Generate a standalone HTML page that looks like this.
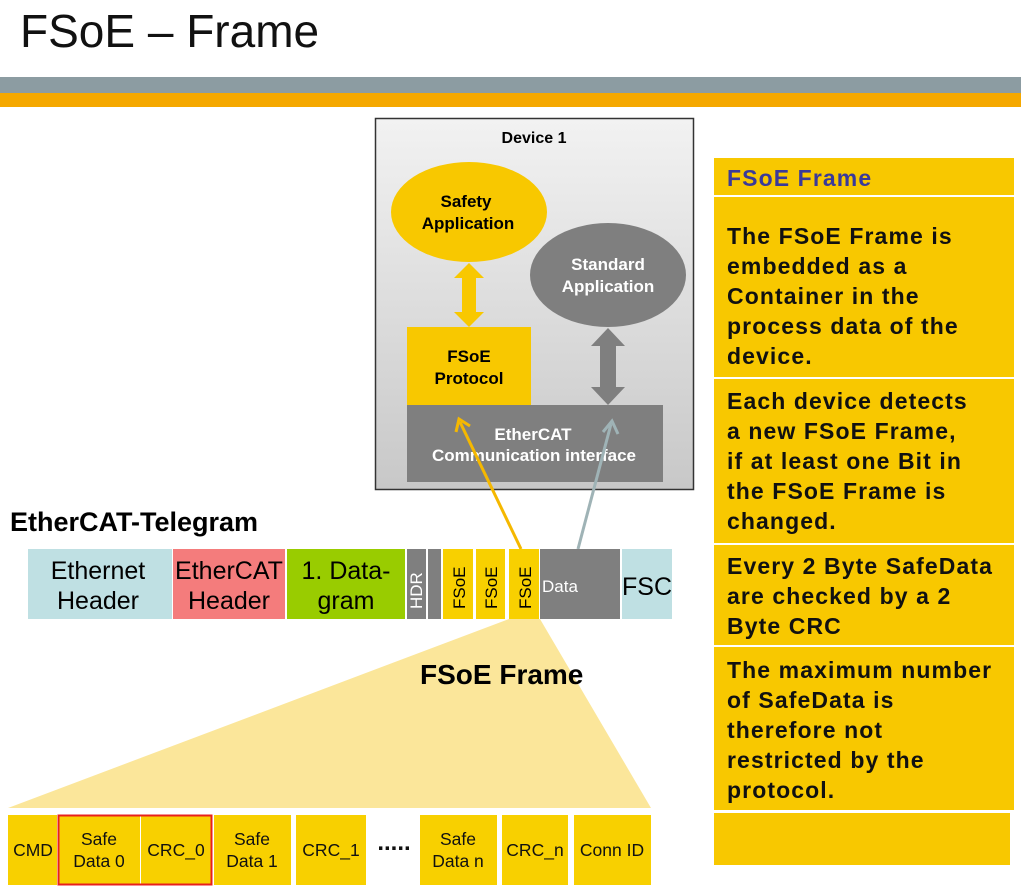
<!DOCTYPE html>
<html><head><meta charset="utf-8"><style>
body{margin:0;width:1021px;height:896px;background:#fff;overflow:hidden;font-family:"Liberation Sans",Arial,sans-serif}
svg text{font-family:"Liberation Sans",Arial,sans-serif}
.panel{position:absolute;left:714px;width:300px;background:#f8c800;box-sizing:border-box;padding-left:13px;font-weight:bold;font-size:23px;line-height:30px;color:#111;letter-spacing:1.1px;white-space:nowrap}
</style></head><body>
<svg width="1021" height="896" style="position:absolute;left:0;top:0">
<defs>
<linearGradient id="g" x1="0" y1="0" x2="0" y2="1"><stop offset="0" stop-color="#f2f2f2"/><stop offset="1" stop-color="#c8c8c8"/></linearGradient>
</defs>
<text x="20" y="47" font-size="46" fill="#111">FSoE – Frame</text>
<rect x="0" y="77" width="1021" height="16" fill="#8c9ca2"/>
<rect x="0" y="93" width="1021" height="14" fill="#f5a800"/>
<rect x="375.5" y="118.5" width="318" height="371" fill="url(#g)" stroke="#333" stroke-width="1.5"/>
<text x="534" y="143" font-size="16" font-weight="bold" text-anchor="middle">Device 1</text>
<ellipse cx="469" cy="212" rx="78" ry="50" fill="#f8c800"/>
<text x="466" y="207" font-size="17" font-weight="bold" text-anchor="middle">Safety</text>
<text x="468" y="229" font-size="17" font-weight="bold" text-anchor="middle">Application</text>
<ellipse cx="608" cy="275" rx="78" ry="52" fill="#7f7f7f"/>
<text x="608" y="270" font-size="17" font-weight="bold" fill="#fff" text-anchor="middle">Standard</text>
<text x="608" y="292" font-size="17" font-weight="bold" fill="#fff" text-anchor="middle">Application</text>
<polygon points="469,263 484,278 476,278 476,312 484,312 469,327 454,312 462,312 462,278 454,278" fill="#f8c800"/>
<rect x="407" y="327" width="124" height="78" fill="#f8c800"/>
<text x="469" y="362" font-size="17" font-weight="bold" text-anchor="middle">FSoE</text>
<text x="469" y="384" font-size="17" font-weight="bold" text-anchor="middle">Protocol</text>
<polygon points="608,328 625,346 616,346 616,387 625,387 608,405 591,387 600,387 600,346 591,346" fill="#7f7f7f"/>
<rect x="407" y="405" width="256" height="77" fill="#7f7f7f"/>
<text x="533" y="440" font-size="17" font-weight="bold" fill="#fff" text-anchor="middle">EtherCAT</text>
<text x="534" y="461" font-size="17" font-weight="bold" fill="#fff" text-anchor="middle">Communication interface</text>
<polygon points="509,619 540,619 651,808 8,808" fill="#fbe69a"/>
<text x="420" y="684" font-size="28" font-weight="bold">FSoE Frame</text>
<line x1="521" y1="549" x2="460" y2="422" stroke="#f5b800" stroke-width="3"/>
<polyline points="456,432 459,419 470,426" fill="none" stroke="#f5b800" stroke-width="3"/>
<line x1="578" y1="549" x2="611" y2="424" stroke="#9fb3b6" stroke-width="3"/>
<polyline points="603,432 612,421 618,434" fill="none" stroke="#9fb3b6" stroke-width="3"/>
<text x="10" y="531" font-size="27" font-weight="bold">EtherCAT-Telegram</text>
<rect x="28" y="549" width="144" height="70" fill="#bfe0e3"/>
<text x="98" y="579" font-size="25" text-anchor="middle">Ethernet</text>
<text x="98" y="609" font-size="25" text-anchor="middle">Header</text>
<rect x="173" y="549" width="112" height="70" fill="#f47c7c"/>
<text x="229" y="579" font-size="25" text-anchor="middle">EtherCAT</text>
<text x="229" y="609" font-size="25" text-anchor="middle">Header</text>
<rect x="287" y="549" width="118" height="70" fill="#99cc00"/>
<text x="346" y="579" font-size="25" text-anchor="middle">1. Data-</text>
<text x="346" y="609" font-size="25" text-anchor="middle">gram</text>
<rect x="407" y="549" width="19" height="70" fill="#7f7f7f"/>
<text transform="translate(422,609) rotate(-90)" font-size="17" fill="#fff">HDR</text>
<rect x="428" y="549" width="13" height="70" fill="#7f7f7f"/>
<rect x="443" y="549" width="30" height="70" fill="#f8d000"/>
<text transform="translate(465,609) rotate(-90)" font-size="17">FSoE</text>
<rect x="476" y="549" width="29" height="70" fill="#f8d000"/>
<text transform="translate(497,609) rotate(-90)" font-size="17">FSoE</text>
<rect x="509" y="549" width="30" height="70" fill="#f8d000"/>
<text transform="translate(531,609) rotate(-90)" font-size="17">FSoE</text>
<rect x="540" y="549" width="80" height="70" fill="#7f7f7f"/>
<text x="542" y="592" font-size="17" fill="#fff">Data</text>
<rect x="622" y="549" width="50" height="70" fill="#bfe0e3"/>
<text x="647" y="595" font-size="25" text-anchor="middle">FSC</text>
<g font-size="17.5" text-anchor="middle" fill="#111">
<rect x="8" y="815" width="49" height="70" fill="#f8d000"/><text x="33" y="856">CMD</text>
<rect x="58" y="815" width="82" height="70" fill="#f8d000"/><text x="99" y="845">Safe</text><text x="99" y="867">Data 0</text>
<rect x="141" y="815" width="70" height="70" fill="#f8d000"/><text x="176" y="856">CRC_0</text>
<rect x="58.5" y="815.5" width="153" height="69" fill="none" stroke="#e8201c" stroke-width="2"/>
<rect x="214" y="815" width="77" height="70" fill="#f8d000"/><text x="252" y="845">Safe</text><text x="252" y="867">Data 1</text>
<rect x="296" y="815" width="70" height="70" fill="#f8d000"/><text x="331" y="856">CRC_1</text>
<text x="394" y="850" font-size="24" font-weight="bold">.....</text>
<rect x="420" y="815" width="77" height="70" fill="#f8d000"/><text x="458" y="845">Safe</text><text x="458" y="867">Data n</text>
<rect x="502" y="815" width="66" height="70" fill="#f8d000"/><text x="535" y="856">CRC_n</text>
<rect x="574" y="815" width="77" height="70" fill="#f8d000"/><text x="612" y="856">Conn ID</text>
</g>
</svg>
<div class="panel" style="top:158px;height:37px;color:#3a3a9a;padding-top:5px;line-height:30px">FSoE Frame</div>
<div class="panel" style="top:197px;height:180px;padding-top:24px">The FSoE Frame is<br>embedded as a<br>Container in the<br>process data of the<br>device.</div>
<div class="panel" style="top:379px;height:164px;padding-top:7px">Each device detects<br>a new FSoE Frame,<br>if at least one Bit in<br>the FSoE Frame is<br>changed.</div>
<div class="panel" style="top:545px;height:100px;padding-top:6px">Every 2 Byte SafeData<br>are checked by a 2<br>Byte CRC</div>
<div class="panel" style="top:647px;height:163px;padding-top:8px">The maximum number<br>of SafeData is<br>therefore not<br>restricted by the<br>protocol.</div>
<div class="panel" style="top:813px;height:52px;width:296px"></div>
</body></html>
